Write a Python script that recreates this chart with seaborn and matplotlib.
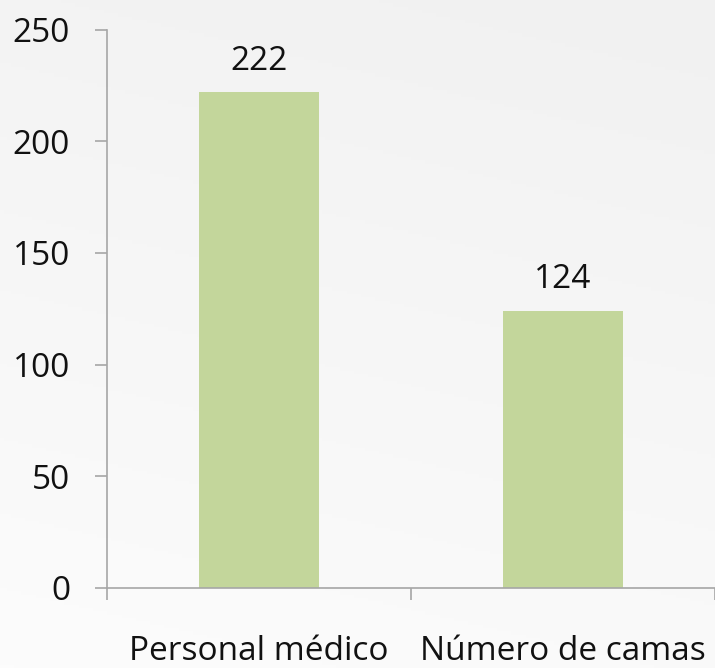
import seaborn as sns
import pandas as pd
import numpy as np
import matplotlib.pyplot as plt
from matplotlib.colors import LinearSegmentedColormap
from matplotlib.ticker import FixedLocator

categories = ['Personal médico', 'Número de camas']
values = [222, 124]
yticks = [0, 50, 100, 150, 200, 250]

sns.set_style('white')
plt.rcParams['font.family'] = ['Open Sans', 'DejaVu Sans']

fig = plt.figure(figsize=(7.15, 6.68), dpi=100)

# light grey gradient background like the slide (darker at top)
bg = fig.add_axes([0, 0, 1, 1], zorder=-1)
yy, xx = np.mgrid[0:1:200j, 0:1:200j]
grad = np.clip(1 - 0.8 * yy - 0.2 * (1 - xx), 0, 1)
cmap = LinearSegmentedColormap.from_list('g', ['#fcfcfc', '#f1f1f1'])
bg.imshow(grad, cmap=cmap, extent=[0, 1, 0, 1], aspect='auto', origin='upper')
bg.axis('off')

ax = fig.add_axes([0.1497, 0.1198, 0.8503, 0.8360])
ax.patch.set_alpha(0)
df = pd.DataFrame({'cat': categories, 'val': values})
sns.barplot(data=df, x='cat', y='val', color='#c3d69b', saturation=1, width=0.395,
            linewidth=0, ax=ax)

for i, v in enumerate(values):
    ax.text(i, v + 6.5, str(v), ha='center', va='bottom', fontsize=24, color='#111111')

ax.set_ylim(0, 250)
ax.set_xlim(-0.5, 1.5)
ax.set_yticks(yticks)
ax.set_xlabel('')
ax.set_ylabel('')

for s in ['top', 'right']:
    ax.spines[s].set_visible(False)
for s in ['left', 'bottom']:
    ax.spines[s].set_color('#a6a6a6')
    ax.spines[s].set_linewidth(1.2)

ax.tick_params(axis='y', direction='out', length=8.6, width=1.2, color='#a6a6a6',
               labelsize=24, labelcolor='#111111', pad=18, left=True)
ax.tick_params(axis='x', which='major', length=0, labelsize=24, labelcolor='#111111', pad=34)
ax.xaxis.set_minor_locator(FixedLocator([-0.5, 0.5, 1.5]))
ax.tick_params(axis='x', which='minor', direction='out', length=8.6, width=1.2,
               color='#a6a6a6', bottom=True)

fig.savefig('out.png', dpi=100)
